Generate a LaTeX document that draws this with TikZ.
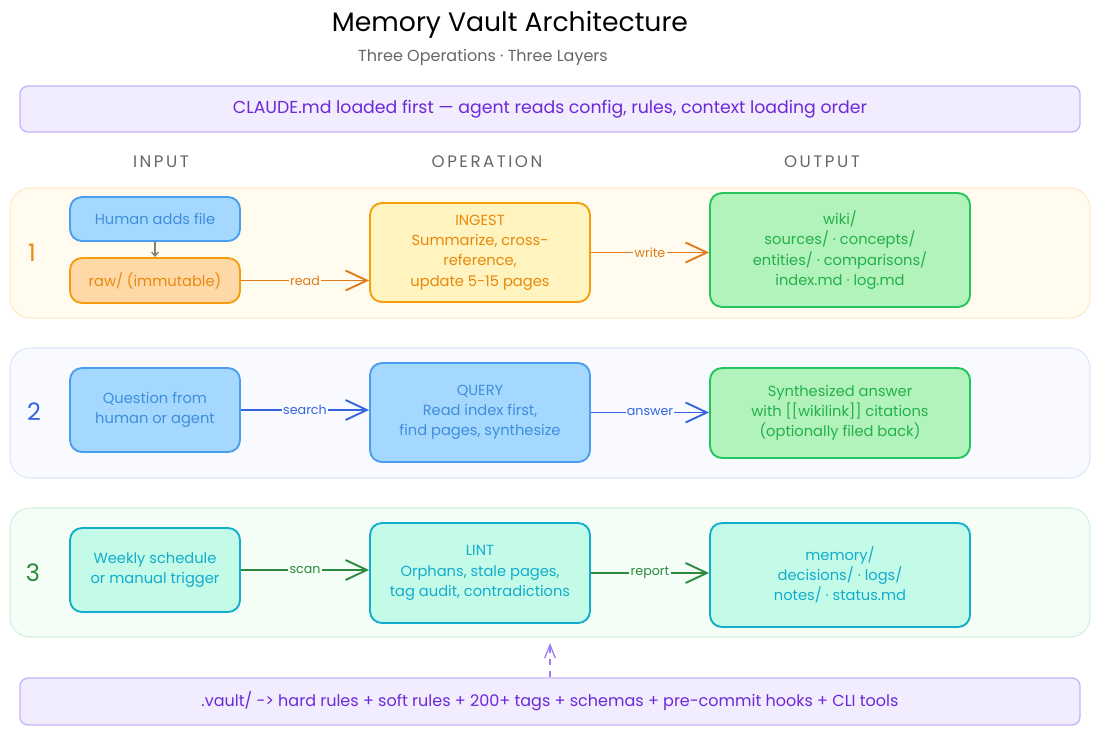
\documentclass[tikz,border=0pt]{standalone}
\usepackage{fontspec}
\setmainfont{Poppins}
\newfontfamily\headfont[LetterSpace=15]{Poppins}
\usetikzlibrary{arrows.meta}
\definecolor{bluefill}{HTML}{A5D8FF}
\definecolor{bluedraw}{HTML}{4A9EED}
\definecolor{bluetext}{HTML}{3F8EDB}
\definecolor{orfill}{HTML}{FFD8A8}
\definecolor{ordraw}{HTML}{F59E0B}
\definecolor{ortext}{HTML}{E8890C}
\definecolor{yelfill}{HTML}{FFF3BF}
\definecolor{grfill}{HTML}{B2F2BB}
\definecolor{grdraw}{HTML}{22C55E}
\definecolor{grtext}{HTML}{22B14C}
\definecolor{cyfill}{HTML}{C3FAE8}
\definecolor{cydraw}{HTML}{12ADCC}
\definecolor{cytext}{HTML}{12ADCC}
\definecolor{arr1}{HTML}{E07B1A}
\definecolor{arr2}{HTML}{3464E0}
\definecolor{arr3}{HTML}{2B8A3E}
\definecolor{purtext}{HTML}{6D28D9}
\definecolor{purfill}{HTML}{F1ECFE}
\definecolor{purdraw}{HTML}{C7B6F7}
\definecolor{purarrow}{HTML}{A07CF0}
\definecolor{band1fill}{HTML}{FFFBEE}
\definecolor{band1draw}{HTML}{FDEBC8}
\definecolor{band2fill}{HTML}{F8FAFF}
\definecolor{band2draw}{HTML}{DCE7F7}
\definecolor{band3fill}{HTML}{F5FDF7}
\definecolor{band3draw}{HTML}{D3F2DD}
\definecolor{headgray}{HTML}{666666}
\begin{document}
\begin{tikzpicture}[x=0.75pt,y=-0.75pt,
  band/.style={rounded corners=15pt, line width=0.8pt, inner sep=0pt, minimum width=810pt},
  banner/.style={rounded corners=6pt, line width=1pt, draw=purdraw, fill=purfill, inner sep=0pt,
    text=purtext, minimum width=795pt},
  box/.style={rounded corners=9pt, line width=1.4pt, inner sep=0pt, align=center,
    font=\fontsize{11}{15.2}\selectfont},
  bluebox/.style={box, draw=bluedraw, fill=bluefill, text=bluetext},
  orbox/.style={box, draw=ordraw, fill=orfill, text=ortext},
  yelbox/.style={box, draw=ordraw, fill=yelfill, text=ortext},
  grbox/.style={box, draw=grdraw, fill=grfill, text=grtext},
  cybox/.style={box, draw=cydraw, fill=cyfill, text=cytext},
  conn/.style={line width=1.4pt, -{Straight Barb[length=16pt,width=15pt,line width=1.4pt]}},
  lbl/.style={inner sep=1pt, font=\fontsize{9.5}{11}\selectfont},
  head/.style={text=headgray, font=\headfont\fontsize{12.5}{14}\selectfont},
  num/.style={font=\fontsize{18}{20}\selectfont}
]
\useasboundingbox (0,0) rectangle (1100,736);

% title
\node[font=\fontsize{20}{24}\selectfont, text=black] (title) at (510,25) {Memory Vault Architecture};
\node[font=\fontsize{12}{14}\selectfont, text=headgray] (subtitle) at (483,57) {Three Operations · Three Layers};

% top banner
\node[banner, minimum height=34.5pt, font=\fontsize{13}{15}\selectfont] (topbanner) at (550,109) {CLAUDE.md loaded first — agent reads config, rules, context loading order};

% column headers
\node[head] (hin) at (161,162) {INPUT};
\node[head] (hop) at (487,162) {OPERATION};
\node[head] (hout) at (822,162) {OUTPUT};

% bands
\node[band, draw=band1draw, fill=band1fill, minimum height=97.5pt] (band1) at (550,253) {};
\node[band, draw=band2draw, fill=band2fill, minimum height=97.5pt] (band2) at (550,413) {};
\node[band, draw=band3draw, fill=band3fill, minimum height=96.75pt] (band3) at (550,572.5) {};

\node[num, text=ortext] (n1) at (32,253) {1};
\node[num, text=arr2] (n2) at (34,412) {2};
\node[num, text=arr3] (n3) at (33,573) {3};

% row 1
\node[bluebox, minimum width=127.5pt, minimum height=33pt] (human) at (155,219) {Human adds file};
\node[orbox, minimum width=127.5pt, minimum height=33.75pt] (raw) at (155,280.5) {raw/ (immutable)};
\node[yelbox, minimum width=165pt, minimum height=74.25pt] (ingest) at (480,252.5) {INGEST\\Summarize, cross-\\reference,\\update 5-15 pages};
\node[grbox, minimum width=195pt, minimum height=85.5pt] (wiki) at (840,250) {wiki/\\sources/ · concepts/\\entities/ · comparisons/\\index.md · log.md};

\draw[line width=1pt, draw=gray, -{Straight Barb[length=3pt,width=5pt]}] (human.south) -- (raw.north);
\draw[conn, draw=arr1] (raw.east) -- node[lbl, fill=band1fill, text=arr1] (lread) {read} (raw.east -| ingest.west);
\draw[conn, draw=arr1] (ingest.east) -- node[lbl, fill=band1fill, text=arr1] (lwrite) {write} (ingest.east -| wiki.west);

% row 2
\node[bluebox, minimum width=127.5pt, minimum height=63pt] (question) at (155,410) {Question from\\human or agent};
\node[bluebox, minimum width=165pt, minimum height=74.25pt] (query) at (480,412.5) {QUERY\\Read index first,\\find pages, synthesize};
\node[grbox, minimum width=195pt, minimum height=67.5pt] (answer) at (840,413) {Synthesized answer\\with [[wikilink]] citations\\(optionally filed back)};

\draw[conn, draw=arr2] (question.east) -- node[lbl, fill=band2fill, text=arr2] (lsearch) {search} (question.east -| query.west);
\draw[conn, draw=arr2] (query.east) -- node[lbl, fill=band2fill, text=arr2] (lanswer) {answer} (query.east -| answer.west);

% row 3
\node[cybox, minimum width=127.5pt, minimum height=63pt] (weekly) at (155,570) {Weekly schedule\\or manual trigger};
\node[cybox, minimum width=165pt, minimum height=75pt] (lint) at (480,573) {LINT\\Orphans, stale pages,\\tag audit, contradictions};
\node[cybox, minimum width=195pt, minimum height=78pt] (memory) at (840,575) {memory/\\decisions/ · logs/\\notes/ · status.md};

\draw[conn, draw=arr3] (weekly.east) -- node[lbl, fill=band3fill, text=arr3] (lscan) {scan} (weekly.east -| lint.west);
\draw[conn, draw=arr3] (lint.east) -- node[lbl, fill=band3fill, text=arr3] (lreport) {report} (lint.east -| memory.west);

% bottom banner
\node[banner, minimum height=35.25pt, font=\fontsize{12}{14}\selectfont] (botbanner) at (550,701.5) {.vault/ -> hard rules + soft rules + 200+ tags + schemas + pre-commit hooks + CLI tools};
\coordinate (dashtop) at (550,643);
\draw[line width=1pt, draw=purarrow, dash pattern=on 5pt off 4pt, -{Straight Barb[length=10pt,width=8pt,line width=1pt]}] (botbanner.north -| dashtop) -- (dashtop);
\end{tikzpicture}
\end{document}
